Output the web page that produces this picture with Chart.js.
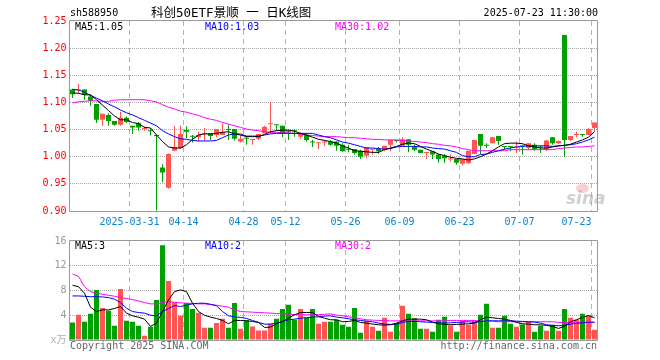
<!DOCTYPE html>
<html><head><meta charset="utf-8">
<script src="https://cdn.jsdelivr.net/npm/chart.js@4.4.1/dist/chart.umd.min.js"></script>
<style>
html,body{margin:0;padding:0;background:#fff;}
#wrap{position:relative;width:660px;height:360px;overflow:hidden;background:#fff;font-family:'DejaVu Sans Mono','Noto Sans CJK SC',monospace;}
canvas{position:absolute;left:0;}
.t{position:absolute;white-space:pre;font-size:10px;line-height:12px;color:#000;}
</style></head><body>
<div id="wrap">
<canvas id="kc" width="660" height="232" style="top:0px;width:660px;height:232px"></canvas>
<canvas id="vc" width="660" height="128" style="top:232px;width:660px;height:128px"></canvas>
<div class="t" style="left:70px;top:7px;">sh588950</div>
<div class="t" style="left:151px;top:5px;font-size:12.5px;line-height:16px;">科创50ETF景顺 一 日K线图</div>
<div class="t" style="right:62px;top:7px;">2025-07-23 11:30:00</div>
<div class="t" id="pm5" style="left:75px;top:21px;color:#000;"></div>
<div class="t" id="pm10" style="left:205px;top:21px;color:#0000ff;"></div>
<div class="t" id="pm30" style="left:335px;top:21px;color:#ff00ff;"></div>
<div class="t" id="vm5" style="left:75px;top:240px;color:#000;"></div>
<div class="t" id="vm10" style="left:205px;top:240px;color:#0000ff;"></div>
<div class="t" id="vm30" style="left:335px;top:240px;color:#ff00ff;"></div>
<div class="t" style="left:70px;top:340px;color:#666;">Copyright 2025 SINA.COM</div>
<div class="t" style="right:63px;top:340px;color:#666;">http://finance.sina.com.cn</div>
<div style="position:absolute;left:576px;top:184px;width:13px;height:9px;border-radius:50%;background:rgba(240,150,150,0.45);"></div>
<div class="t" style="left:566px;top:189px;font-size:17px;line-height:18px;font-style:italic;font-weight:bold;color:rgba(170,170,170,0.55);font-family:'DejaVu Sans',sans-serif;">sina</div>
</div>
<script>
const dates = ['2025-03-17','2025-03-18','2025-03-19','2025-03-20','2025-03-21','2025-03-24','2025-03-25','2025-03-26','2025-03-27','2025-03-28',
'2025-03-31','2025-04-01','2025-04-02','2025-04-03','2025-04-07','2025-04-08','2025-04-09','2025-04-10','2025-04-11','2025-04-14',
'2025-04-15','2025-04-16','2025-04-17','2025-04-18','2025-04-21','2025-04-22','2025-04-23','2025-04-24','2025-04-25','2025-04-28',
'2025-04-29','2025-04-30','2025-05-06','2025-05-07','2025-05-08','2025-05-09','2025-05-12','2025-05-13','2025-05-14','2025-05-15',
'2025-05-16','2025-05-19','2025-05-20','2025-05-21','2025-05-22','2025-05-23','2025-05-26','2025-05-27','2025-05-28','2025-05-29',
'2025-05-30','2025-06-03','2025-06-04','2025-06-05','2025-06-06','2025-06-09','2025-06-10','2025-06-11','2025-06-12','2025-06-13',
'2025-06-16','2025-06-17','2025-06-18','2025-06-19','2025-06-20','2025-06-23','2025-06-24','2025-06-25','2025-06-26','2025-06-27',
'2025-06-30','2025-07-01','2025-07-02','2025-07-03','2025-07-04','2025-07-07','2025-07-08','2025-07-09','2025-07-10','2025-07-11',
'2025-07-14','2025-07-15','2025-07-16','2025-07-17','2025-07-18','2025-07-21','2025-07-22','2025-07-23'];

const tickDates = ['2025-03-31','2025-04-14','2025-04-28','2025-05-12','2025-05-26','2025-06-09','2025-06-23','2025-07-07','2025-07-23'];
const tickTexts = ['2025-03-31','04-14','04-28','05-12','05-26','06-09','06-23','07-07','07-23'];

const open = [1.124,1.122,1.124,1.111,1.097,1.068,1.077,1.066,1.059,1.072,
1.057,1.062,1.051,1.048,1.040,0.980,0.943,1.011,1.016,1.049,
1.038,1.036,1.042,1.043,1.040,1.040,1.050,1.051,1.028,1.034,
1.031,1.033,1.043,1.060,1.059,1.057,1.048,1.048,1.037,1.040,
1.027,1.025,1.026,1.028,1.028,1.022,1.014,1.014,1.011,1.002,
1.013,1.014,1.013,1.022,1.031,1.020,1.032,1.018,1.013,1.007,
1.010,1.004,1.002,0.995,0.996,0.987,0.988,1.005,1.042,1.021,
1.025,1.038,1.019,1.019,1.017,1.020,1.016,1.022,1.018,1.013,
1.036,1.025,1.224,1.031,1.040,1.041,1.040,1.053];

const high = [1.125,1.134,1.124,1.114,1.097,1.079,1.080,1.066,1.083,1.074,
1.057,1.064,1.056,1.053,1.041,0.986,1.006,1.057,1.057,1.056,
1.040,1.046,1.053,1.043,1.051,1.061,1.059,1.051,1.040,1.038,
1.032,1.042,1.057,1.101,1.059,1.057,1.049,1.051,1.045,1.043,
1.031,1.026,1.031,1.031,1.028,1.025,1.022,1.014,1.013,1.018,
1.014,1.018,1.020,1.031,1.031,1.036,1.032,1.022,1.013,1.008,
1.010,1.004,1.005,1.004,0.996,0.996,1.011,1.031,1.042,1.025,
1.037,1.038,1.019,1.019,1.028,1.022,1.025,1.025,1.020,1.031,
1.036,1.030,1.224,1.038,1.046,1.042,1.053,1.063];

const low = [1.108,1.117,1.105,1.094,1.062,1.057,1.057,1.057,1.057,1.062,
1.042,1.048,1.048,1.039,0.901,0.953,0.941,1.011,1.014,1.034,
1.026,1.028,1.029,1.031,1.036,1.040,1.031,1.030,1.026,1.022,
1.022,1.031,1.043,1.043,1.049,1.036,1.031,1.037,1.033,1.028,
1.018,1.014,1.020,1.020,1.011,1.009,1.008,1.004,0.996,0.997,
1.004,1.005,1.010,1.010,1.026,1.020,1.008,1.010,1.007,0.996,
0.996,0.989,0.989,0.991,0.985,0.984,0.987,1.005,1.005,1.016,
1.025,1.022,1.013,1.010,1.007,1.004,1.013,1.011,1.007,1.011,
1.022,1.024,1.000,1.029,1.036,1.037,1.040,1.046];

const close = [1.115,1.124,1.114,1.103,1.068,1.079,1.066,1.059,1.072,1.064,
1.054,1.054,1.053,1.047,1.038,0.971,1.005,1.018,1.042,1.046,
1.037,1.040,1.043,1.038,1.051,1.045,1.049,1.033,1.033,1.033,
1.032,1.042,1.055,1.061,1.058,1.043,1.046,1.047,1.042,1.031,
1.026,1.026,1.027,1.022,1.020,1.010,1.013,1.007,1.000,1.018,
1.014,1.010,1.020,1.031,1.029,1.032,1.022,1.013,1.007,1.008,
1.004,0.996,0.997,0.996,0.989,0.996,1.011,1.031,1.020,1.020,
1.036,1.029,1.018,1.018,1.018,1.019,1.025,1.014,1.017,1.030,
1.025,1.029,1.031,1.038,1.041,1.040,1.051,1.063];

const ma5 = [1.117,1.117,1.114,1.114,1.105,1.095,1.085,1.075,1.068,1.068,
1.063,1.061,1.054,1.053,1.040,1.028,1.018,1.016,1.016,1.022,
1.032,1.040,1.042,1.042,1.043,1.045,1.046,1.042,1.040,1.037,
1.037,1.037,1.041,1.046,1.048,1.049,1.049,1.047,1.043,1.040,
1.036,1.032,1.030,1.028,1.025,1.020,1.016,1.011,1.010,1.009,
1.008,1.008,1.013,1.016,1.019,1.023,1.025,1.024,1.019,1.014,
1.010,1.005,1.002,0.999,0.997,0.996,0.994,0.996,1.000,1.005,
1.011,1.018,1.024,1.025,1.025,1.024,1.020,1.018,1.016,1.016,
1.018,1.020,1.021,1.023,1.027,1.031,1.036,1.046];

const ma10 = [1.124,1.123,1.119,1.113,1.108,1.103,1.097,1.092,1.086,1.081,
1.077,1.072,1.067,1.062,1.057,1.048,1.042,1.037,1.033,1.032,
1.030,1.029,1.029,1.029,1.030,1.035,1.040,1.042,1.042,1.038,
1.038,1.038,1.040,1.042,1.043,1.043,1.043,1.043,1.043,1.043,
1.043,1.040,1.037,1.035,1.031,1.027,1.025,1.022,1.019,1.016,
1.016,1.015,1.014,1.015,1.018,1.019,1.019,1.019,1.018,1.018,
1.016,1.015,1.014,1.011,1.008,1.002,1.000,1.000,1.004,1.005,
1.008,1.011,1.014,1.016,1.018,1.019,1.020,1.020,1.020,1.020,
1.019,1.020,1.021,1.022,1.024,1.027,1.031,1.036];

const ma30 = [1.099,1.101,1.102,1.103,1.103,1.102,1.102,1.104,1.105,1.105,
1.105,1.105,1.105,1.103,1.101,1.096,1.091,1.088,1.084,1.082,
1.079,1.076,1.072,1.069,1.067,1.063,1.060,1.057,1.054,1.051,
1.049,1.048,1.046,1.045,1.045,1.044,1.044,1.043,1.042,1.040,
1.039,1.038,1.037,1.037,1.037,1.036,1.035,1.035,1.034,1.033,
1.032,1.032,1.031,1.031,1.031,1.030,1.029,1.028,1.027,1.026,
1.024,1.023,1.021,1.020,1.018,1.015,1.013,1.011,1.011,1.011,
1.011,1.011,1.011,1.013,1.013,1.013,1.013,1.013,1.013,1.013,
1.013,1.015,1.016,1.017,1.018,1.018,1.019,1.020];

const volume = [2.84,4.07,2.95,4.23,8.09,5.19,4.71,2.30,8.25,3.11,
2.95,2.30,0.70,2.14,6.48,15.3,9.53,6.10,3.91,6.00,
5.03,4.39,1.98,1.98,2.73,3.43,1.98,6.00,1.82,3.21,
2.20,1.55,1.55,2.62,3.43,5.03,5.68,3.27,5.03,3.64,
5.03,2.62,2.95,2.95,3.27,2.46,2.14,5.19,1.18,3.11,
2.14,1.50,3.59,1.34,2.73,5.52,4.23,3.53,1.82,1.82,
1.34,3.27,3.75,2.36,1.34,3.11,2.46,3.11,4.07,5.84,
1.98,1.98,3.91,2.62,2.14,2.52,2.95,1.34,2.30,1.50,
2.46,1.50,5.03,3.59,3.27,4.23,3.91,1.66];

const vma5 = [8.84,8.62,7.55,5.30,4.60,4.87,4.87,5.09,5.41,4.34,
3.91,3.69,3.37,2.20,2.73,4.60,6.48,7.82,8.09,7.82,
5.94,4.60,4.00,3.69,3.48,3.16,2.62,3.16,3.16,3.10,
3.00,2.84,2.03,2.09,2.62,3.00,3.53,4.07,4.44,4.44,
4.44,3.80,3.53,3.27,3.27,2.95,3.00,3.16,2.84,2.73,
2.57,2.46,2.41,2.46,2.73,3.10,3.37,3.37,3.37,3.27,
2.89,2.62,2.52,2.46,2.52,2.57,2.62,2.73,3.27,3.69,
3.59,3.48,3.37,3.16,2.84,2.62,2.57,2.46,2.46,2.36,
2.20,1.87,2.20,2.95,3.27,3.64,3.96,3.59];

const vma10 = [7.12,7.12,7.07,7.00,7.00,6.96,6.85,6.60,6.05,5.14,
4.60,4.44,4.34,4.00,3.90,4.60,5.09,5.57,5.41,5.62,
5.84,5.94,5.94,5.78,5.52,4.60,3.91,3.75,3.64,3.48,
3.16,2.84,2.57,2.57,2.73,2.95,3.27,3.37,3.53,3.59,
3.69,3.75,3.86,3.91,3.69,3.59,3.43,3.27,3.16,3.05,
2.95,2.73,2.57,2.52,2.57,2.84,3.00,3.00,2.95,2.89,
2.84,2.78,2.73,2.78,2.84,2.89,2.95,2.84,2.95,3.10,
3.10,3.10,3.10,3.10,3.05,3.00,2.95,2.89,2.73,2.46,
2.36,2.30,2.36,2.57,2.68,2.78,2.89,2.89];

const vma30 = [10.66,10.30,8.60,7.82,7.55,7.39,7.23,7.07,6.85,6.69,
6.53,6.32,6.05,5.84,5.84,6.05,6.21,6.10,6.00,5.95,
5.90,5.84,5.84,5.73,5.62,5.46,5.30,4.87,4.60,4.55,
4.50,4.44,4.39,4.34,4.28,4.23,4.18,4.12,4.07,4.07,
4.10,4.10,4.15,4.23,4.02,3.91,3.75,3.59,3.43,3.27,
3.21,3.16,3.12,3.10,3.10,3.10,3.10,3.10,3.10,3.10,
3.10,3.10,3.10,3.16,3.16,3.16,3.16,3.16,3.05,3.05,
3.05,2.95,2.95,2.95,2.95,2.95,2.95,2.95,2.95,2.95,
2.95,2.84,2.84,2.84,2.84,2.84,2.84,2.84];

const priceMaLabels = ['MA5:1.05','MA10:1.03','MA30:1.02'];
const volMaLabels = ['MA5:3','MA10:2','MA30:2'];

document.getElementById('pm5').textContent = priceMaLabels[0];
document.getElementById('pm10').textContent = priceMaLabels[1];
document.getElementById('pm30').textContent = priceMaLabels[2];
document.getElementById('vm5').textContent = volMaLabels[0];
document.getElementById('vm10').textContent = volMaLabels[1];
document.getElementById('vm30').textContent = volMaLabels[2];

const UP = '#ff5555', DN = '#00a000';
const MONO = "'DejaVu Sans Mono','Noto Sans CJK SC',monospace";
Chart.defaults.font.family = MONO;
Chart.defaults.font.size = 10;

const isUp = i => close[i] >= open[i];
const tickIdx = {};
tickDates.forEach((d, k) => { tickIdx[dates.indexOf(d)] = tickTexts[k]; });
const hasTick = i => tickIdx[i] !== undefined;
const CLEAR = 'rgba(0,0,0,0)';

const framePlugin = {
  id: 'frame',
  afterDraw(chart) {
    const {ctx, chartArea: a} = chart;
    ctx.save();
    ctx.setLineDash([]);
    ctx.strokeStyle = '#999';
    ctx.lineWidth = 1;
    const l = Math.floor(a.left) + 0.5, r = Math.floor(a.right) + 0.5;
    const t = Math.round(a.top) - 0.5, b = Math.round(a.bottom) + 0.5;
    ctx.beginPath();
    ctx.rect(l, t, r - l, b - t);
    ctx.stroke();
    ctx.restore();
  }
};

function lineDs(label, data, color) {
  return {type: 'line', label, data, borderColor: color, borderWidth: 1, pointRadius: 0,
          tension: 0, fill: false, order: 0};
}

const xGrid = {offset: true, drawTicks: false, lineWidth: 1,
  color: c => (c.tick && hasTick(c.index)) ? '#b4b4b4' : CLEAR};

new Chart(document.getElementById('kc'), {
  type: 'bar',
  data: {
    labels: dates,
    datasets: [
      lineDs('MA5', ma5, '#000000'),
      lineDs('MA10', ma10, '#0000ff'),
      lineDs('MA30', ma30, '#ff00ff'),
      {label: 'body', data: open.map((o, i) => [o, close[i]]),
       backgroundColor: c => isUp(c.dataIndex) ? UP : DN,
       barThickness: 5, minBarLength: 1, grouped: false, inflateAmount: 0, borderWidth: 0, order: 1},
      {label: 'wick', data: low.map((l, i) => [l, high[i]]),
       backgroundColor: c => isUp(c.dataIndex) ? UP : DN,
       barThickness: 1, minBarLength: 1, grouped: false, inflateAmount: 0, borderWidth: 0, order: 2}
    ]
  },
  options: {
    responsive: false, animation: false, devicePixelRatio: 1, events: [],
    layout: {padding: {left: 0, right: 62.5, top: 21, bottom: 0}},
    plugins: {legend: {display: false}, tooltip: {enabled: false}},
    scales: {
      x: {type: 'category', offset: true, grid: xGrid,
          border: {display: false, dash: [5, 4]},
          ticks: {autoSkip: false, maxRotation: 0, minRotation: 0, padding: 5, labelOffset: -3,
                  align: 'inner', color: '#0a84d0', font: {family: MONO, size: 10},
                  callback: (v, i) => hasTick(i) ? tickIdx[i] : ''},
          afterFit: s => { s.height = 21; }},
      y: {type: 'linear', min: 0.9, max: 1.25, position: 'left',
          grid: {drawTicks: false, lineWidth: 1,
                 color: c => (c.tick && (c.tick.value < 0.9001 || c.tick.value > 1.2499)) ? CLEAR : '#a8a8a8'},
          border: {display: false, dash: [1, 1]},
          ticks: {stepSize: 0.05, padding: 3, color: '#ff0000', font: {family: MONO, size: 10},
                  callback: v => Number(v).toFixed(2)},
          afterFit: s => { s.width = 69.5; }}
    }
  },
  plugins: [framePlugin]
});

new Chart(document.getElementById('vc'), {
  type: 'bar',
  data: {
    labels: dates,
    datasets: [
      lineDs('MA5', vma5, '#000000'),
      lineDs('MA10', vma10, '#0000ff'),
      lineDs('MA30', vma30, '#ff00ff'),
      {label: 'vol', data: volume,
       backgroundColor: c => isUp(c.dataIndex) ? UP : DN,
       barThickness: 5, grouped: false, inflateAmount: 0, borderWidth: 0, order: 1}
    ]
  },
  options: {
    responsive: false, animation: false, devicePixelRatio: 1, events: [],
    layout: {padding: {left: 0, right: 62.5, top: 9, bottom: 0}},
    plugins: {legend: {display: false}, tooltip: {enabled: false}},
    scales: {
      x: {type: 'category', offset: true, grid: xGrid,
          border: {display: false, dash: [5, 4]},
          ticks: {display: false, autoSkip: false},
          afterFit: s => { s.height = 20; }},
      y: {type: 'linear', min: 0, max: 16, position: 'left',
          grid: {drawTicks: false, lineWidth: 1,
                 color: c => (c.tick && (c.tick.value === 0 || c.tick.value === 16)) ? CLEAR : '#a8a8a8'},
          border: {display: false, dash: [1, 1]},
          ticks: {stepSize: 4, padding: 3, font: {family: MONO, size: 10},
                  color: c => (c.tick && c.tick.value === 0) ? '#b0b0b0' : '#999999',
                  callback: v => v === 0 ? 'x万' : String(v)},
          afterFit: s => { s.width = 69.5; }}
    }
  },
  plugins: [framePlugin]
});
</script>
</body></html>
